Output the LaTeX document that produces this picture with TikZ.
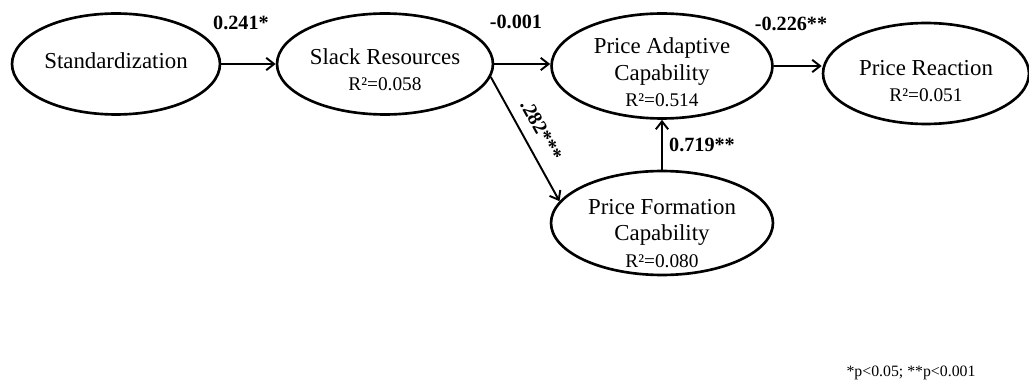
\documentclass[tikz,border=0pt]{standalone}
\usepackage{fontspec}
\setmainfont{Liberation Serif}
\usetikzlibrary{arrows.meta, positioning, shapes.geometric}
\tikzset {
  construct/.style = {draw, line width=1.5pt, ellipse, inner sep=0pt},
  inside/.style = {align=center, inner sep=0pt, font=\fontsize{13}{15}\selectfont},
  coef/.style = {font=\fontsize{11.5}{13}\selectfont\bfseries, inner sep=1pt},
  note/.style = {font=\fontsize{9}{11}\selectfont, inner sep=0pt},
  line/.style = {-{Straight Barb[length=4.5pt, width=7pt]}, line width=1.1pt, color=black},
}
\newcommand{\rsq}[1]{\\{\fontsize{11}{15}\selectfont R²=#1}}

\begin{document}
\begin{tikzpicture}[x=0.02cm, y=-0.02cm]
    \useasboundingbox (0,0) rectangle (1029,385);

    % ellipses
    \node[construct, minimum width=4.16cm, minimum height=2.02cm] (std) at (116,64) {};
    \node[construct, minimum width=4.32cm, minimum height=2.02cm] (slack) at (385,64) {};
    \node[construct, minimum width=4.42cm, minimum height=2.1cm] (adapt) at (662,66) {};
    \node[construct, minimum width=4.12cm, minimum height=2.02cm] (react) at (926,73.5) {};
    \node[construct, minimum width=4.44cm, minimum height=2.08cm] (form) at (662,223) {};

    % texts inside
    \node[inside] (stdtext) at (116,61) {Standardization};
    \node[inside] (slacktext) at (385,69.5) {Slack Resources\rsq{0.058}};
    \node[inside] (adapttext) at (662,72.5) {Price Adaptive\\Capability\rsq{0.514}};
    \node[inside] (reacttext) at (926,81) {Price Reaction\rsq{0.051}};
    \node[inside] (formtext) at (662,233.5) {Price Formation\\Capability\rsq{0.080}};

    \node[coef] (b1) at (241,23) {0.241*};
    \node[coef] (b2) at (516,22) {-0.001};
    \node[coef] (b3) at (791,24) {-0.226**};
    \node[coef] (b4) at (702,145) {0.719**};
    \node[note] (sig) at (911,373) {*p<0.05; **p<0.001};

    \draw[line] (std.east) -- (slack.west);
    \draw[line] (slack.east) -- (slack.east -| adapt.west);
    \draw[line] (adapt.east) -- (adapt.east -| react.west);
    \draw[line] (slack.-7) -- node[coef, sloped, above=5pt, pos=0.5] (b5) {.282***} (form.168);
    \draw[line] (form.north) -- (adapt.south);

  \end{tikzpicture}
\end{document}
